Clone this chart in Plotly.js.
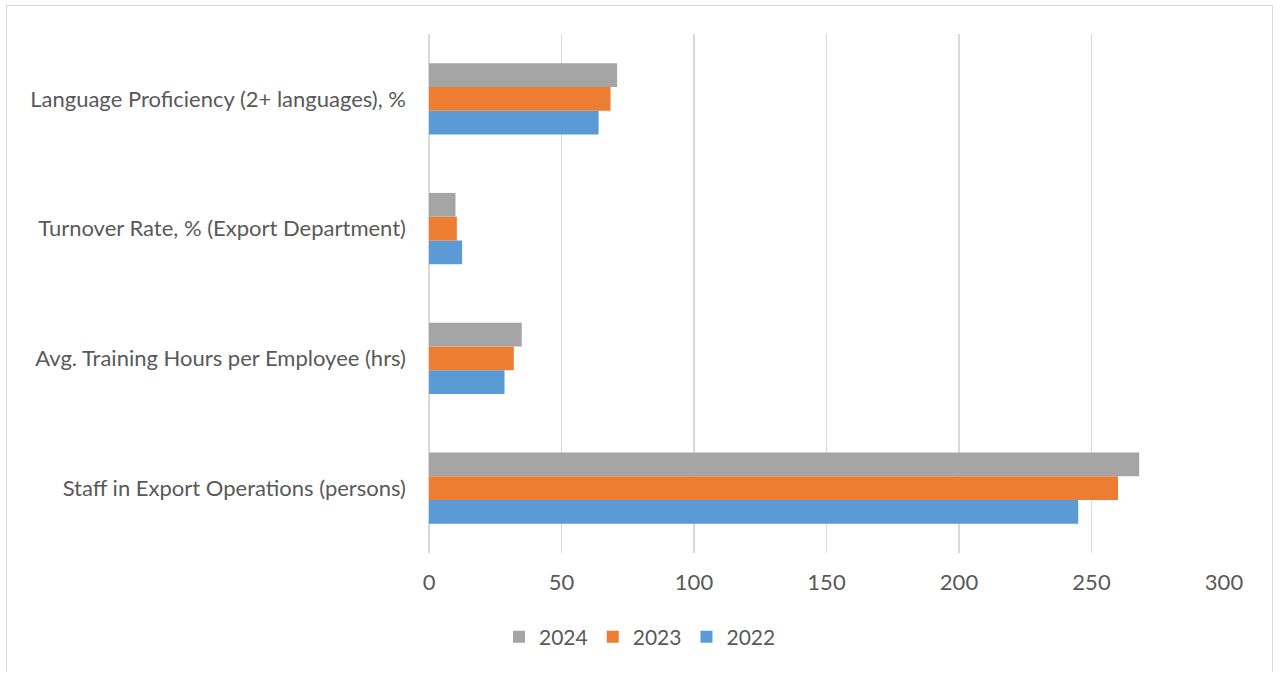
<!DOCTYPE html>
<html>
<head>
<meta charset="utf-8">
<script src="https://cdn.plot.ly/plotly-3.0.1.min.js"></script>
<style>
html,body{margin:0;padding:0;background:#fff;}
#chart{width:1280px;height:673px;}
#frame{position:absolute;left:6px;top:5px;width:1267px;height:667px;border:1px solid #d9d9d9;border-bottom:none;pointer-events:none;box-sizing:border-box;}
</style>
</head>
<body>
<div id="chart"></div>
<div id="frame"></div>
<script>
const categories = [
  "Staff in Export Operations (persons)",
  "Avg. Training Hours per Employee (hrs)",
  "Turnover Rate, % (Export Department)",
  "Language Proficiency (2+ languages), %"
];
const values2022 = [245, 28.5, 12.5, 64];
const values2023 = [260, 32, 10.5, 68.5];
const values2024 = [268, 35, 10, 71];
const xTicks = [0, 50, 100, 150, 200, 250, 300];

const font = {family: "Lato, Open Sans, sans-serif", size: 22, color: "#595959"};
const legendFont = {family: "Lato, Open Sans, sans-serif", size: 21, color: "#595959"};

const traces = [
  {name: "2022", y: categories, x: values2022, type: "bar", orientation: "h", marker: {color: "#5b9bd5"}},
  {name: "2023", y: categories, x: values2023, type: "bar", orientation: "h", marker: {color: "#ed7d31"}},
  {name: "2024", y: categories, x: values2024, type: "bar", orientation: "h", marker: {color: "#a5a5a5"}}
];

const layout = {
  width: 1280, height: 673,
  margin: {l: 429, r: 56, t: 34, b: 120},
  paper_bgcolor: "#ffffff", plot_bgcolor: "#ffffff",
  font: font,
  barmode: "group",
  bargap: 0.45,
  bargroupgap: 0,
  showlegend: true,
  legend: {orientation: "h", x: 0.5, xref: "container", xanchor: "center", y: (673 - 637) / 673, yref: "container", yanchor: "middle", traceorder: "reversed", font: legendFont, itemwidth: 30},
  xaxis: {range: [0, 300], tickvals: xTicks, showgrid: true, gridcolor: "#d9d9d9", gridwidth: 1.3, zeroline: true, zerolinecolor: "#d9d9d9", zerolinewidth: 1.5, showline: false, ticks: "", ticklabelstandoff: 14, tickfont: font, fixedrange: true},
  yaxis: {type: "category", categoryorder: "array", categoryarray: categories, showgrid: false, zeroline: false, showline: false, ticks: "", ticklabelstandoff: 22, tickfont: font, fixedrange: true}
};

Plotly.newPlot("chart", traces, layout, {displayModeBar: false, staticPlot: true});
</script>
</body>
</html>
